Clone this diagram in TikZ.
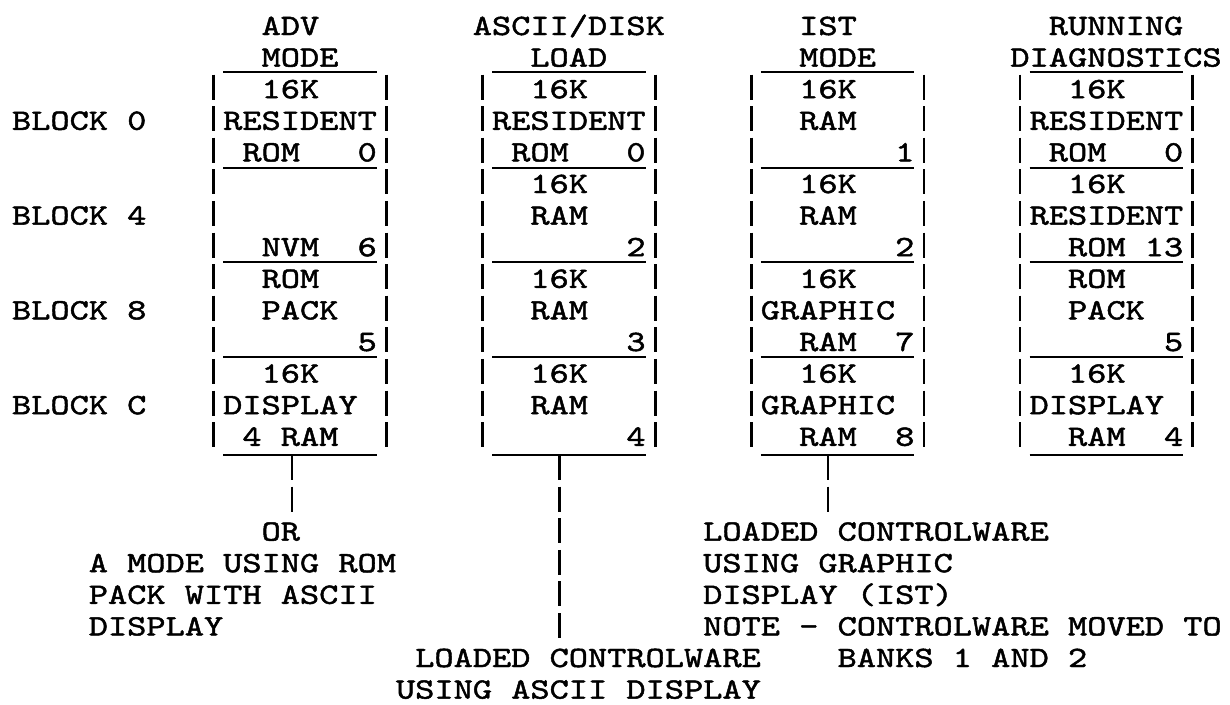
\documentclass[tikz,border=0pt]{standalone}
\usepackage{fontspec}
\newfontfamily\tw{lmmono10-regular}[Extension=.otf,FakeStretch=1.24,FakeBold=1.6]
\newcommand\Tput[4]{\node[tt] (#1) at ({12+19.2*(#2)},{35+31.6*(#3)}) {#4};}
\begin{document}
\begin{tikzpicture}[x=1pt,y=-1pt,
  tt/.style={inner sep=0pt,outer sep=0pt,anchor=base west,font=\tw\fontsize{29.5}{31.6}\selectfont},
  hbar/.style={line width=2.6pt},
  vbar/.style={line width=2.8pt,dash pattern=on 25pt off 6.6pt}]
\fill[white] (0,0) rectangle (1230,704);
\useasboundingbox (0,0) rectangle (1230,704);

% headers
\Tput{h1a}{13}{0}{ADV}
\Tput{h1b}{13}{1}{MODE}
\Tput{h2a}{24}{0}{ASCII/DISK}
\Tput{h2b}{27}{1}{LOAD}
\Tput{h3a}{41}{0}{IST}
\Tput{h3b}{41}{1}{MODE}
\Tput{h4a}{54}{0}{RUNNING}
\Tput{h4b}{52}{1}{DIAGNOSTICS}

% block labels
\Tput{bl0}{0}{3}{BLOCK 0}
\Tput{bl4}{0}{6}{BLOCK 4}
\Tput{bl8}{0}{9}{BLOCK 8}
\Tput{blc}{0}{12}{BLOCK C}

% box 1
\Tput{a1}{13}{2}{16K}
\Tput{a2}{11}{3}{RESIDENT}
\Tput{a3}{12}{4}{ROM}
\Tput{a4}{18}{4}{0}
\Tput{a5}{13}{7}{NVM}
\Tput{a6}{18}{7}{6}
\Tput{a7}{13}{8}{ROM}
\Tput{a8}{13}{9}{PACK}
\Tput{a9}{18}{10}{5}
\Tput{a10}{13}{11}{16K}
\Tput{a11}{11}{12}{DISPLAY}
\Tput{a12}{12}{13}{4 RAM}

% box 2
\Tput{b1}{27}{2}{16K}
\Tput{b2}{25}{3}{RESIDENT}
\Tput{b3}{26}{4}{ROM}
\Tput{b4}{32}{4}{0}
\Tput{b5}{27}{5}{16K}
\Tput{b6}{27}{6}{RAM}
\Tput{b7}{32}{7}{2}
\Tput{b8}{27}{8}{16K}
\Tput{b9}{27}{9}{RAM}
\Tput{b10}{32}{10}{3}
\Tput{b11}{27}{11}{16K}
\Tput{b12}{27}{12}{RAM}
\Tput{b13}{32}{13}{4}

% box 3
\Tput{c1}{41}{2}{16K}
\Tput{c2}{41}{3}{RAM}
\Tput{c3}{46}{4}{1}
\Tput{c4}{41}{5}{16K}
\Tput{c5}{41}{6}{RAM}
\Tput{c6}{46}{7}{2}
\Tput{c7}{41}{8}{16K}
\Tput{c8}{39}{9}{GRAPHIC}
\Tput{c9}{41}{10}{RAM}
\Tput{c10}{46}{10}{7}
\Tput{c11}{41}{11}{16K}
\Tput{c12}{39}{12}{GRAPHIC}
\Tput{c13}{41}{13}{RAM}
\Tput{c14}{46}{13}{8}

% box 4
\Tput{d1}{55}{2}{16K}
\Tput{d2}{53}{3}{RESIDENT}
\Tput{d3}{54}{4}{ROM}
\Tput{d4}{60}{4}{0}
\Tput{d5}{55}{5}{16K}
\Tput{d6}{53}{6}{RESIDENT}
\Tput{d7}{55}{7}{ROM}
\Tput{d8}{59}{7}{13}
\Tput{d9}{55}{8}{ROM}
\Tput{d10}{55}{9}{PACK}
\Tput{d11}{60}{10}{5}
\Tput{d12}{55}{11}{16K}
\Tput{d13}{53}{12}{DISPLAY}
\Tput{d14}{55}{13}{RAM}
\Tput{d15}{60}{13}{4}

% notes
\Tput{n1a}{13}{16}{OR}
\Tput{n1b}{4}{17}{A MODE USING ROM}
\Tput{n1c}{4}{18}{PACK WITH ASCII}
\Tput{n1d}{4}{19}{DISPLAY}
\Tput{n2a}{21}{20}{LOADED CONTROLWARE}
\Tput{n2b}{20}{21}{USING ASCII DISPLAY}
\Tput{n3a}{36}{16}{LOADED CONTROLWARE}
\Tput{n3b}{36}{17}{USING GRAPHIC}
\Tput{n3c}{36}{18}{DISPLAY (IST)}
\Tput{n3d}{36}{19}{NOTE - CONTROLWARE MOVED TO}
\Tput{n3e}{43}{20}{BANKS 1 AND 2}

% boxes: underscores and typed bars
\foreach \l in {10,24,38,52}{
  \foreach \y in {72,168,262,357,455}{
    \draw[hbar] ({12+19.2*(\l+1)},\y) -- ({12+19.2*(\l+9)},\y);
  }
  \draw[vbar] ({21.6+19.2*\l},74.5) -- ++(0,372.6);
  \draw[vbar] ({21.6+19.2*(\l+9)},74.5) -- ++(0,372.6);
}

% connectors
\coordinate (k1top) at (292,455);
\coordinate (k1end) at (292,512);
\coordinate (k2top) at ({21.6+19.2*28},455);
\coordinate (k2end) at ({21.6+19.2*28},638);
\coordinate (k3top) at ({21.6+19.2*42},455);
\coordinate (k3end) at ({21.6+19.2*42},512);
\draw[vbar] (k1top) -- (k1end);
\draw[vbar] (k2top) -- (k2end);
\draw[vbar] (k3top) -- (k3end);
\end{tikzpicture}
\end{document}
